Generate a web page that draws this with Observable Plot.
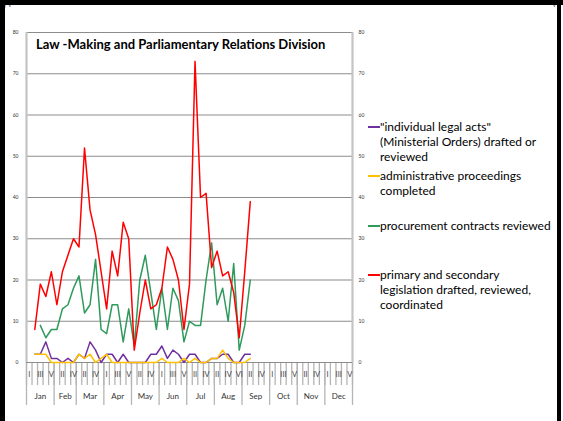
<!DOCTYPE html>
<html><head><meta charset="utf-8">
<script src="https://cdn.jsdelivr.net/npm/d3@7"></script>
<script src="https://cdn.jsdelivr.net/npm/@observablehq/plot@0.6"></script>
<style>
body{margin:0;background:#fff;font-family:Lato,"Open Sans",sans-serif;}
#wrap{position:relative;width:563px;height:421px;overflow:hidden;background:#fff;}
.bd{position:absolute;background:#000;}
#title{position:absolute;left:36px;top:36px;font-weight:bold;font-size:13px;color:#000;white-space:nowrap;}
.lg{position:absolute;left:368px;font-size:12px;line-height:15px;color:#000;white-space:nowrap;}
.lg .sw{position:absolute;left:0;top:7px;width:12px;height:2px;}
.lg .tx{margin-left:12px;}
</style></head><body>
<div id="wrap"></div>
<script>
const months = ["Jan","Feb","Mar","Apr","May","Jun","Jul","Aug","Sep","Oct","Nov","Dec"];
const weekLabels = [
  ["I","II","III","IV","V"],
  ["I","II","III","IV"],
  ["I","II","III","IV","V"],
  ["I","II","III","IV","V"],
  ["I","II","III","IV","V"],
  ["I","II","III","IV","V"],
  ["I","II","III","IV","V"],
  ["II","III","IV","V","VI"],
  ["I","II","III","IV","V"],
  ["I","II","III","IV","V"],
  ["I","II","III","IV","V"],
  ["I","II","III","IV","V"]
];
const yTicks = [0,10,20,30,40,50,60,70,80];

const seriesNames = [
  "\"individual legal acts\" (Ministerial Orders) drafted or reviewed",
  "administrative proceedings completed",
  "procurement contracts reviewed",
  "primary and secondary legislation drafted, reviewed, coordinated"
];
const seriesColors = ["#7030A0","#FFC000","#2E9A5C","#FF0000"];

// weekly values (index = week position from Jan I)
const individualActs = [null, 2,2,5,1,1,0,1,0,2,1, 5,3,0,2,2,0,2,0,0,0, 0,2,2,4,1,3,2,0,2,2, 0,0,1,1,2,2,0,0,2,2];
const adminProceedings = [null, 2,2,2,0,0,0,0,0,2,1, 2,0,1,2,0,0,0,0,0,0, 0,0,0,1,0,0,0,1,0,1, 0,0,1,1,3,1,0,0,0,1];
const procurement = [null,null, 9,6,8,8,13,14,18,21,12, 14,25,8,7,14,14,5,13,4,20, 26,17,8,18,8,18,15,5,10,9, 9,20,29,14,18,10,24,3,9,20];
const legislation = [null, 8,19,16,22,14,22,26,30,28,52, 37,31,22,13,27,21,34,30,3,12, 20,13,14,18,28,25,20,8,19,73, 40,41,23,27,21,22,17,6,22,39];

// build week table
const weeks = [];
const monthStarts = [];
const monthMids = [];
weekLabels.forEach((ws, m) => {
  monthStarts.push(weeks.length);
  const start = weeks.length;
  ws.forEach(w => weeks.push({i: weeks.length, label: w, month: months[m]}));
  monthMids.push({month: months[m], x: (start + weeks.length) / 2});
});
monthStarts.push(weeks.length);
const nWeeks = weeks.length;
const boundaries = d3.range(nWeeks + 1);

const allSeries = [individualActs, adminProceedings, procurement, legislation];
const lineData = [];
allSeries.forEach((arr, s) => arr.forEach((v, i) => {
  if (v != null) lineData.push({s, name: seriesNames[s], x: i + 0.5, v});
}));

const chart = Plot.plot({
  width: 563, height: 421,
  marginLeft: 26, marginRight: 211, marginTop: 32, marginBottom: 59,
  style: {background: "transparent", fontFamily: "Lato, 'Open Sans', sans-serif", overflow: "visible"},
  x: {domain: [0, nWeeks], axis: null},
  y: {domain: [0, 80], axis: null},
  marks: [
    Plot.ruleY(yTicks.filter(d => d > 0), {stroke: "#8c8c8c", strokeWidth: 1.2}),
    Plot.ruleX(boundaries, {x: d => d, y1: 0, y2: -5.6, stroke: "#b5b5b5", strokeWidth: 1.3}),
    Plot.ruleX(monthStarts, {x: d => d, y1: 0, y2: -10.4, stroke: "#b5b5b5", strokeWidth: 1.3}),
    Plot.ruleX([0, nWeeks], {stroke: "#c4c4c4", strokeWidth: 2.2}),
    Plot.ruleY([0], {stroke: "#8c8c8c", strokeWidth: 1.2}),
    Plot.text(weeks.filter(d => d.i % 2 === 0), {x: d => d.i + 0.5, y: 0, dy: 12, text: "label", fontSize: 7.5, fill: "#444"}),
    Plot.text(monthMids, {x: "x", y: 0, dy: 34, text: "month", fontSize: 8, fill: "#333"}),
    Plot.axisY({anchor: "left", ticks: yTicks, tickSize: 0, tickPadding: 8, fontSize: 5, tickFormat: d => d, color: "#333"}),
    Plot.axisY({anchor: "right", ticks: yTicks, tickSize: 0, tickPadding: 6, fontSize: 5, tickFormat: d => d, color: "#333"}),
    ...allSeries.map((arr, s) => Plot.line(lineData.filter(d => d.s === s), {x: "x", y: "v", stroke: seriesColors[s], strokeWidth: 1.5}))
  ]
});

const wrap = document.getElementById("wrap");
wrap.appendChild(chart);
chart.style.position = "absolute";
chart.style.left = "0px";
chart.style.top = "0px";

const title = document.createElement("div");
title.id = "title";
title.textContent = "Law -Making and Parliamentary Relations Division";
wrap.appendChild(title);

const legendLines = [
  ["\"individual legal acts\"", "(Ministerial Orders) drafted or", "reviewed"],
  ["administrative proceedings", "completed"],
  ["procurement contracts reviewed"],
  ["primary and secondary", "legislation drafted, reviewed,", "coordinated"]
];
const legendTops = [119, 168, 218, 267];
legendLines.forEach((lines, s) => {
  const d = document.createElement("div");
  d.className = "lg";
  d.style.top = legendTops[s] + "px";
  const sw = document.createElement("div");
  sw.className = "sw";
  sw.style.background = seriesColors[s];
  d.appendChild(sw);
  const tx = document.createElement("div");
  tx.className = "tx";
  tx.innerHTML = lines.map(l => l.replace(/&/g,"&amp;").replace(/</g,"&lt;")).join("<br>");
  d.appendChild(tx);
  wrap.appendChild(d);
});

// black frame
[["0px","0px","563px","5px"],["0px","0px","5px","421px"],["557px","0px","4px","421px"]].forEach(([l,t,w,h]) => {
  const b = document.createElement("div");
  b.className = "bd";
  b.style.left = l; b.style.top = t; b.style.width = w; b.style.height = h;
  wrap.appendChild(b);
});
</script>
</body></html>
